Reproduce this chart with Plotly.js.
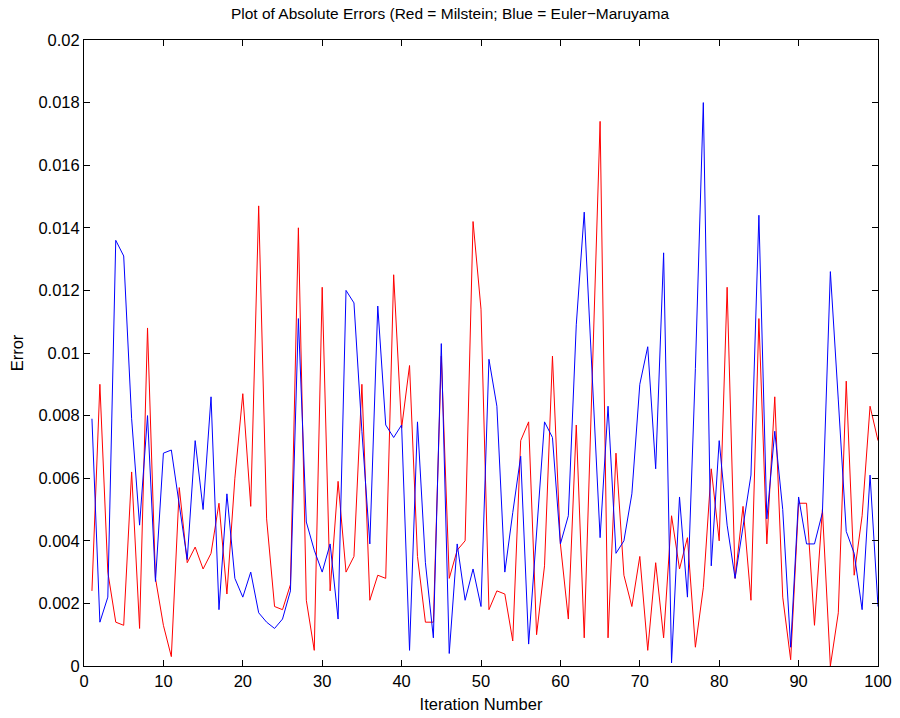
<!DOCTYPE html>
<html>
<head>
<meta charset="utf-8">
<script src="https://cdn.plot.ly/plotly-3.0.1.min.js"></script>
<style>html,body{margin:0;padding:0;background:#fff;}#chart{width:900px;height:718px;}</style>
</head>
<body>
<div id="chart"></div>
<script>
// Iteration numbers 1..100
const iterations = [1,2,3,4,5,6,7,8,9,10,11,12,13,14,15,16,17,18,19,20,21,22,23,24,25,26,27,28,29,30,31,32,33,34,35,36,37,38,39,40,41,42,43,44,45,46,47,48,49,50,51,52,53,54,55,56,57,58,59,60,61,62,63,64,65,66,67,68,69,70,71,72,73,74,75,76,77,78,79,80,81,82,83,84,85,86,87,88,89,90,91,92,93,94,95,96,97,98,99,100];

// Red = Milstein absolute errors
const milsteinErrors = [
  0.0024,0.0090,0.0030,0.0014,0.0013,0.0062,0.0012,0.0108,0.0028,0.0013,
  0.0003,0.0057,0.0033,0.0038,0.0031,0.0036,0.0052,0.0023,0.0060,0.0087,
  0.0051,0.0147,0.0047,0.0019,0.0018,0.0026,0.0140,0.0021,0.0005,0.0121,
  0.0024,0.0059,0.0030,0.0035,0.0090,0.0021,0.0029,0.0028,0.0125,0.0076,
  0.0096,0.0035,0.0014,0.0014,0.0099,0.0028,0.0037,0.0040,0.0142,0.0114,
  0.0018,0.0024,0.0023,0.0008,0.0072,0.0078,0.0010,0.0032,0.0099,0.0039,
  0.0015,0.0077,0.0009,0.0090,0.0174,0.0009,0.0068,0.0029,0.0019,0.0035,
  0.0005,0.0033,0.0009,0.0048,0.0031,0.0041,0.0006,0.0025,0.0063,0.0040,
  0.0121,0.0028,0.0051,0.0021,0.0111,0.0039,0.0086,0.0022,0.0002,0.0052,
  0.0052,0.0013,0.0050,0.0000,0.0017,0.0091,0.0029,0.0048,0.0083,0.0072
];

// Blue = Euler-Maruyama absolute errors
const eulerErrors = [
  0.0079,0.0014,0.0022,0.0136,0.0131,0.0079,0.0045,0.0080,0.0027,0.0068,
  0.0069,0.0052,0.0034,0.0072,0.0050,0.0086,0.0018,0.0055,0.0028,0.0022,
  0.0030,0.0017,0.0014,0.0012,0.0015,0.0024,0.0111,0.0046,0.0037,0.0030,
  0.0039,0.0015,0.0120,0.0116,0.0075,0.0039,0.0115,0.0077,0.0073,0.0077,
  0.0005,0.0078,0.0033,0.0009,0.0103,0.0004,0.0039,0.0021,0.0031,0.0019,
  0.0098,0.0083,0.0030,0.0049,0.0067,0.0007,0.0042,0.0078,0.0073,0.0039,
  0.0048,0.0109,0.0145,0.0093,0.0041,0.0083,0.0036,0.0040,0.0055,0.0090,
  0.0102,0.0063,0.0132,0.0001,0.0054,0.0022,0.0095,0.0180,0.0032,0.0072,
  0.0045,0.0028,0.0045,0.0061,0.0144,0.0047,0.0075,0.0050,0.0006,0.0054,
  0.0039,0.0039,0.0049,0.0126,0.0085,0.0043,0.0036,0.0018,0.0061,0.0019
];

const xTickVals = [0,10,20,30,40,50,60,70,80,90,100];
const xTickText = ['0','10','20','30','40','50','60','70','80','90','100'];
const yTickVals = [0,0.002,0.004,0.006,0.008,0.01,0.012,0.014,0.016,0.018,0.02];
const yTickText = ['0','0.002','0.004','0.006','0.008','0.01','0.012','0.014','0.016','0.018','0.02'];

const font = 'Liberation Sans, Arial, Helvetica, sans-serif';

const traces = [
  {x: iterations, y: milsteinErrors, type: 'scatter', mode: 'lines',
   line: {color: '#ff0000', width: 1}, name: 'Milstein'},
  {x: iterations, y: eulerErrors, type: 'scatter', mode: 'lines',
   line: {color: '#0000ff', width: 1}, name: 'Euler-Maruyama'}
];

const axisCommon = {
  showline: true, linecolor: '#000', linewidth: 1, mirror: 'ticks',
  ticks: 'inside', ticklen: 6, tickcolor: '#000', tickwidth: 1,
  showgrid: false, zeroline: false, automargin: false,
  tickfont: {family: font, size: 16.5, color: '#000'}
};

const layout = {
  width: 900, height: 718,
  margin: {l: 84, r: 22, t: 40, b: 52},
  paper_bgcolor: '#fff', plot_bgcolor: '#fff',
  showlegend: false,
  title: {text: 'Plot of Absolute Errors (Red = Milstein; Blue = Euler\u2212Maruyama',
          font: {family: font, size: 15.5, color: '#000'}, x: 0.5, xanchor: 'center', y: 0.981, yanchor: 'middle'},
  xaxis: Object.assign({}, axisCommon, {
    range: [0, 100], tickvals: xTickVals, ticktext: xTickText,
    title: {text: 'Iteration Number', font: {family: font, size: 16.5, color: '#000'}, standoff: 9}
  }),
  yaxis: Object.assign({}, axisCommon, {
    range: [0, 0.02], tickvals: yTickVals, ticktext: yTickText,
    title: {text: 'Error', font: {family: font, size: 16.5, color: '#000'}, standoff: 10}
  })
};

Plotly.newPlot('chart', traces, layout, {staticPlot: true, displayModeBar: false});
</script>
</body>
</html>
